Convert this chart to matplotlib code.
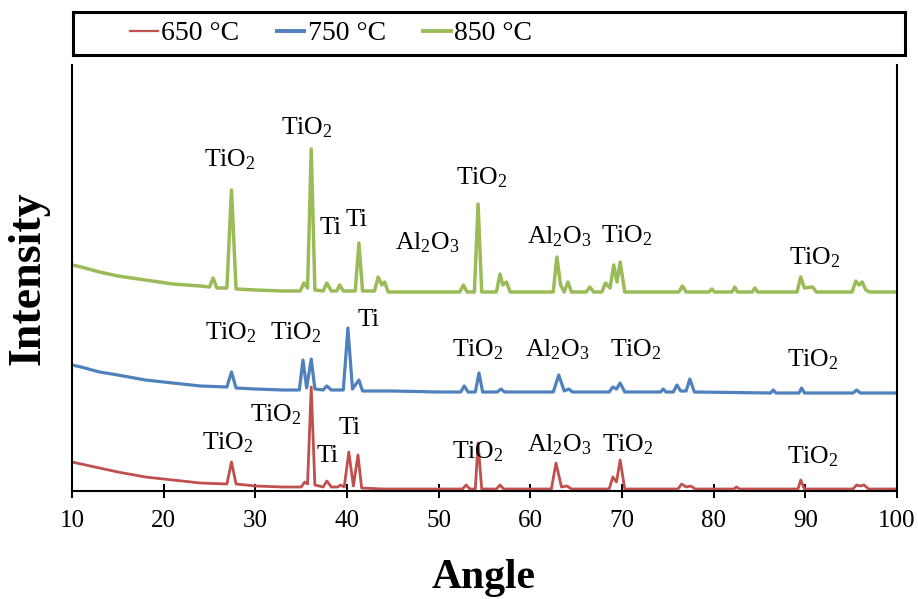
import numpy as np
import matplotlib
matplotlib.use('Agg')
import matplotlib.pyplot as plt
from matplotlib.lines import Line2D

plt.rcParams['font.family'] = ['Liberation Serif', 'DejaVu Serif']
plt.rcParams['mathtext.fontset'] = 'custom'
plt.rcParams['mathtext.rm'] = 'Liberation Serif'
plt.rcParams['mathtext.it'] = 'Liberation Serif'
plt.rcParams['mathtext.bf'] = 'Liberation Serif:bold'

# traces (angle, intensity in arbitrary units, offsets included)
x_650 = [10, 11, 13, 15, 18, 21, 24, 26.9, 27.4, 27.9, 30, 33, 35.0, 35.4, 35.7, 36.1, 36.5,
         37.4, 37.8, 38.3, 39.0, 39.3, 39.7, 40.2, 40.7, 41.2, 41.6, 44, 48, 52.6, 53.0, 53.4,
         54.0, 54.3, 54.7, 56.3, 56.7, 57.1, 62.3, 62.8, 63.4, 64.0, 64.5, 68.6, 69.0, 69.4,
         69.8, 70.3, 76.1, 76.5, 77.0, 77.5, 78.0, 82.2, 82.5, 82.8, 89.2, 89.5, 89.9, 95.2,
         95.6, 96.0, 96.4, 96.9, 100]
y_650 = [29, 27, 23, 19, 14, 11, 8, 7, 29, 7, 5, 4, 4, 9, 7, 104, 6,
         4, 10, 4, 4, 6, 4, 39, 5, 36, 3, 2, 2, 2, 6, 2,
         2, 48, 2, 2, 6, 2, 2, 28, 4, 5, 2, 2, 14, 9,
         31, 2, 2, 7, 4, 5, 2, 2, 4, 2, 2, 11, 2, 2,
         6, 5, 6, 2, 2]

x_750 = [10, 11, 13, 15, 18, 21, 24, 26.9, 27.4, 27.9, 30, 33, 34.8, 35.2, 35.6, 36.1, 36.5,
         37.4, 37.8, 38.3, 39.6, 40.1, 40.6, 41.3, 41.7, 45, 50, 52.4, 52.8, 53.2, 54.0, 54.4,
         54.8, 56.4, 56.8, 57.2, 62.5, 63.1, 63.7, 64.2, 64.6, 68.6, 69.0, 69.4, 69.8, 70.3,
         74.2, 74.5, 74.8, 75.6, 76.0, 76.4, 77.0, 77.4, 77.9, 86.2, 86.5, 86.8, 89.3, 89.6,
         89.9, 95.2, 95.6, 96.0, 100]
y_750 = [126, 124, 119, 116, 111, 108, 105, 104, 119, 103, 102, 101, 101, 131, 103, 132, 102,
         101, 105, 101, 101, 163, 102, 111, 100, 100, 99, 99, 105, 99, 99, 118,
         99, 99, 102, 99, 99, 116, 100, 102, 99, 99, 104, 102, 108, 99,
         99, 102, 99, 99, 106, 100, 100, 112, 99, 98, 101, 98, 98, 103,
         98, 98, 101, 98, 98]

x_850 = [10, 11, 13, 15, 18, 21, 24, 25.0, 25.4, 25.8, 26.9, 27.4, 27.9, 30, 33, 34.9, 35.3,
         35.7, 36.1, 36.5, 37.4, 37.8, 38.3, 38.9, 39.2, 39.6, 40.9, 41.3, 41.7, 43.0, 43.4,
         43.8, 44.1, 44.5, 48, 52.3, 52.7, 53.1, 53.9, 54.3, 54.7, 56.3, 56.7, 57.0, 57.4,
         57.8, 62.5, 62.9, 63.3, 63.7, 64.1, 64.5, 66.1, 66.5, 66.9, 67.8, 68.2, 68.7, 69.1,
         69.45, 69.8, 70.3, 76.2, 76.6, 77.0, 79.5, 79.8, 80.1, 82.0, 82.3, 82.6, 84.2, 84.5,
         84.8, 89.1, 89.5, 89.9, 90.8, 91.2, 95.1, 95.5, 95.85, 96.2, 96.6, 97, 100]
y_850 = [226, 224, 219, 215, 211, 207, 205, 204, 213, 203, 203, 301, 202, 201, 200, 200, 208,
         203, 342, 201, 200, 208, 200, 200, 206, 200, 200, 248, 200, 200, 214,
         206, 209, 199, 199, 199, 206, 199, 199, 287, 199, 199, 217, 206, 209,
         199, 199, 234, 206, 199, 209, 199, 199, 204, 199, 199, 208, 203, 226,
         209, 229, 199, 199, 205, 199, 199, 202, 199, 199, 204, 199, 199, 203,
         199, 199, 214, 203, 204, 199, 199, 210, 206, 209, 201, 199, 199]

# peak labels: (text, angle, height)
labels_850 = [('TiO$_2$', 27.2, 331), ('TiO$_2$', 35.6, 363), ('Ti', 38.2, 263), ('Ti', 41.1, 271),
              ('Al$_2$O$_3$', 48.8, 248), ('TiO$_2$', 54.7, 313), ('Al$_2$O$_3$', 63.2, 254),
              ('TiO$_2$', 70.5, 255), ('TiO$_2$', 91.0, 233)]
labels_750 = [('TiO$_2$', 27.3, 158), ('TiO$_2$', 34.4, 158), ('Ti', 42.4, 171),
              ('TiO$_2$', 54.3, 141), ('Al$_2$O$_3$', 63.0, 141), ('TiO$_2$', 71.5, 141),
              ('TiO$_2$', 90.8, 131)]
labels_650 = [('TiO$_2$', 27.0, 48), ('TiO$_2$', 32.2, 76), ('Ti', 37.9, 35), ('Ti', 40.3, 63),
              ('TiO$_2$', 54.3, 39), ('Al$_2$O$_3$', 63.2, 46), ('TiO$_2$', 70.6, 46),
              ('TiO$_2$', 90.8, 34)]

series = ['650 °C', '750 °C', '850 °C']
colors = ['#C0504D', '#4F81BD', '#9BBB59']
xticks = [10, 20, 30, 40, 50, 60, 70, 80, 90, 100]

fig = plt.figure(figsize=(9.18, 5.99), dpi=100)
ax = fig.add_axes([0.0784, 0.1803, 0.8987, 0.7112])

ax.plot(x_650, y_650, color=colors[0], lw=2.0)
ax.plot(x_750, y_750, color=colors[1], lw=2.3)
ax.plot(x_850, y_850, color=colors[2], lw=2.5)

for lab_list in [labels_650, labels_750, labels_850]:
    for txt, xx, yy in lab_list:
        ax.text(xx, yy, txt, fontsize=18.5, ha='center', va='center')

ax.set_xlim(10, 100)
ax.set_ylim(0, 426)
ax.set_xticks(xticks)
ax.set_yticks([])
ax.tick_params(axis='x', direction='inout', length=10, width=1.4, labelsize=18, pad=9)
ax.spines['top'].set_visible(False)
for s in ['left', 'right', 'bottom']:
    ax.spines[s].set_linewidth(1.5)

fig.text(0.527, 0.035, 'Angle', fontsize=30, fontweight='bold', ha='center', va='center')
fig.text(0.031, 0.536, 'Intensity', fontsize=33, fontweight='bold', ha='center', va='center',
         rotation=90)

# legend box on top
lax = fig.add_axes([0.0795, 0.908, 0.9063, 0.0718])
lax.set_xticks([])
lax.set_yticks([])
for s in lax.spines.values():
    s.set_linewidth(2.2)
handles = [Line2D([], [], color=c, lw=w) for c, w in zip(colors, [1.6, 2.8, 2.8])]
lax.legend(handles, series, loc='center left', bbox_to_anchor=(0.055, 0.5), ncol=3,
           frameon=False, fontsize=20, handlelength=1.0, handletextpad=0.12,
           columnspacing=1.35, borderaxespad=0)

plt.savefig('out.png', dpi=100)
